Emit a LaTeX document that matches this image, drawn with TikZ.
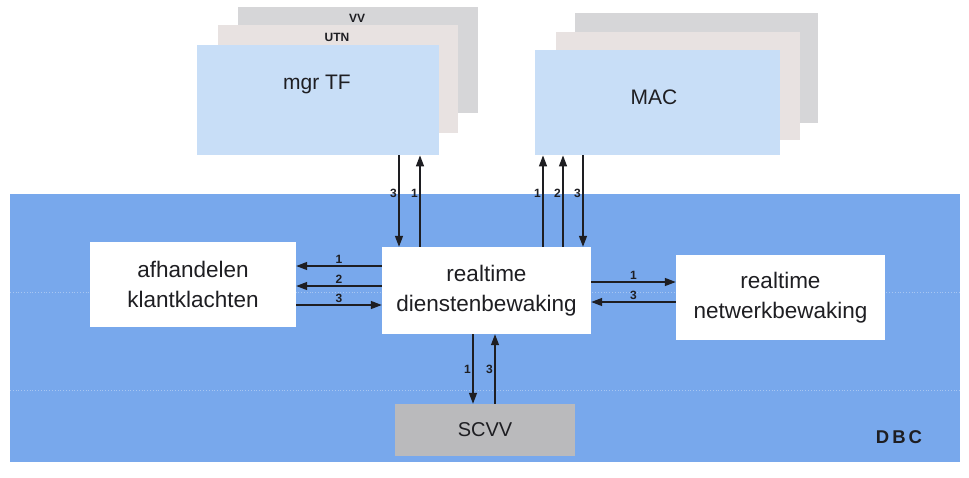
\documentclass[tikz,border=0pt]{standalone}
\usepackage{fontspec}
\setmainfont{Liberation Sans}
\usetikzlibrary{arrows.meta,calc}
\definecolor{dbcblue}{RGB}{120,168,236}
\definecolor{frontblue}{RGB}{200,222,247}
\definecolor{midpink}{RGB}{232,226,225}
\definecolor{backgray}{RGB}{214,214,216}
\definecolor{scvvgray}{RGB}{186,186,188}
\definecolor{ink}{RGB}{30,30,34}
\tikzset{
  box/.style={draw=none,rectangle,inner sep=0pt},
  whitebox/.style={box,fill=white,align=center,font=\fontsize{22.5}{30}\selectfont,text=ink},
  arr/.style={draw=ink,line width=1.4pt,-{Triangle[length=11pt,width=8pt]}},
  num/.style={font=\fontsize{12}{13}\selectfont\bfseries,text=ink,inner sep=1.5pt},
  tag/.style={font=\fontsize{12}{13}\selectfont\bfseries,text=ink,inner sep=0pt},
  big/.style={font=\fontsize{21}{26}\selectfont,text=ink,inner sep=0pt}
}
\begin{document}
\begin{tikzpicture}[x=1pt,y=-1pt]
\useasboundingbox[fill=white] (0,0) rectangle (969,477);
% DBC background
\node[box,fill=dbcblue,minimum width=950pt,minimum height=268pt,anchor=north west] (dbc) at (10,194) {};
\draw[white,opacity=0.35,line width=0.8pt,dotted] (dbc.west |- 0,292) -- (dbc.east |- 0,292);
\draw[white,opacity=0.35,line width=0.8pt,dotted] (dbc.west |- 0,390) -- (dbc.east |- 0,390);
\node[tag,font=\fontsize{18.5}{19}\selectfont\bfseries] (dbclbl) at (899,437) {D\hspace{3pt}B\hspace{3pt}C};
% mgr TF stack
\node[box,fill=backgray,minimum width=240pt,minimum height=106pt,anchor=north west] (vv) at (238,7) {};
\node[box,fill=midpink,minimum width=240pt,minimum height=108pt,anchor=north west] (utn) at (218,25) {};
\node[box,fill=frontblue,minimum width=242pt,minimum height=110pt,anchor=north west] (mgr) at (197,45) {};
\node[tag] (vvlbl) at (357,18) {VV};
\node[tag] (utnlbl) at (337,37) {UTN};
\node[big] (mgrlbl) at (317,84) {mgr TF};
% MAC stack
\node[box,fill=backgray,minimum width=243pt,minimum height=110pt,anchor=north west] (macb) at (575,13) {};
\node[box,fill=midpink,minimum width=244pt,minimum height=108pt,anchor=north west] (macm) at (556,32) {};
\node[box,fill=frontblue,minimum width=245pt,minimum height=105pt,anchor=north west] (mac) at (535,50) {};
\node[big] (maclbl) at (654,97) {MAC};
% white boxes
\node[whitebox,minimum width=206pt,minimum height=85pt] (afh) at (193,284.5) {afhandelen\\klantklachten};
\node[whitebox,minimum width=209pt,minimum height=87pt] (dienst) at (486.5,290.5) {realtime\\dienstenbewaking};
\node[whitebox,minimum width=209pt,minimum height=85pt] (netw) at (780.5,297.5) {realtime\\netwerkbewaking};
\node[box,fill=scvvgray,minimum width=180pt,minimum height=52pt,font=\fontsize{20}{24}\selectfont,text=ink] (scvv) at (485,430) {SCVV};
% helper coordinates
\coordinate (xa) at (399,0);
\coordinate (xb) at (420,0);
\coordinate (xc) at (543,0);
\coordinate (xd) at (563,0);
\coordinate (xe) at (583,0);
\coordinate (xf) at (473,0);
\coordinate (xg) at (495,0);
\coordinate (ya) at (0,266);
\coordinate (yb) at (0,286);
\coordinate (yc) at (0,305);
\coordinate (yd) at (0,282);
\coordinate (ye) at (0,302);
% mgr TF <-> dienst
\draw[arr] (mgr.south -| xa) -- node[num,left,pos=0.42]{3} (dienst.north -| xa);
\draw[arr] (dienst.north -| xb) -- node[num,left,pos=0.58]{1} (mgr.south -| xb);
% MAC <-> dienst
\draw[arr] (dienst.north -| xc) -- node[num,left,pos=0.58]{1} (mac.south -| xc);
\draw[arr] (dienst.north -| xd) -- node[num,left,pos=0.58]{2} (mac.south -| xd);
\draw[arr] (mac.south -| xe) -- node[num,left,pos=0.42]{3} (dienst.north -| xe);
% afh <-> dienst
\draw[arr] (dienst.west |- ya) -- node[num,above]{1} (afh.east |- ya);
\draw[arr] (dienst.west |- yb) -- node[num,above]{2} (afh.east |- yb);
\draw[arr] (afh.east |- yc) -- node[num,above]{3} (dienst.west |- yc);
% dienst <-> netw
\draw[arr] (dienst.east |- yd) -- node[num,above]{1} (netw.west |- yd);
\draw[arr] (netw.west |- ye) -- node[num,above]{3} (dienst.east |- ye);
% dienst <-> scvv
\draw[arr] (dienst.south -| xf) -- node[num,left]{1} (scvv.north -| xf);
\draw[arr] (scvv.north -| xg) -- node[num,left]{3} (dienst.south -| xg);
\end{tikzpicture}
\end{document}
